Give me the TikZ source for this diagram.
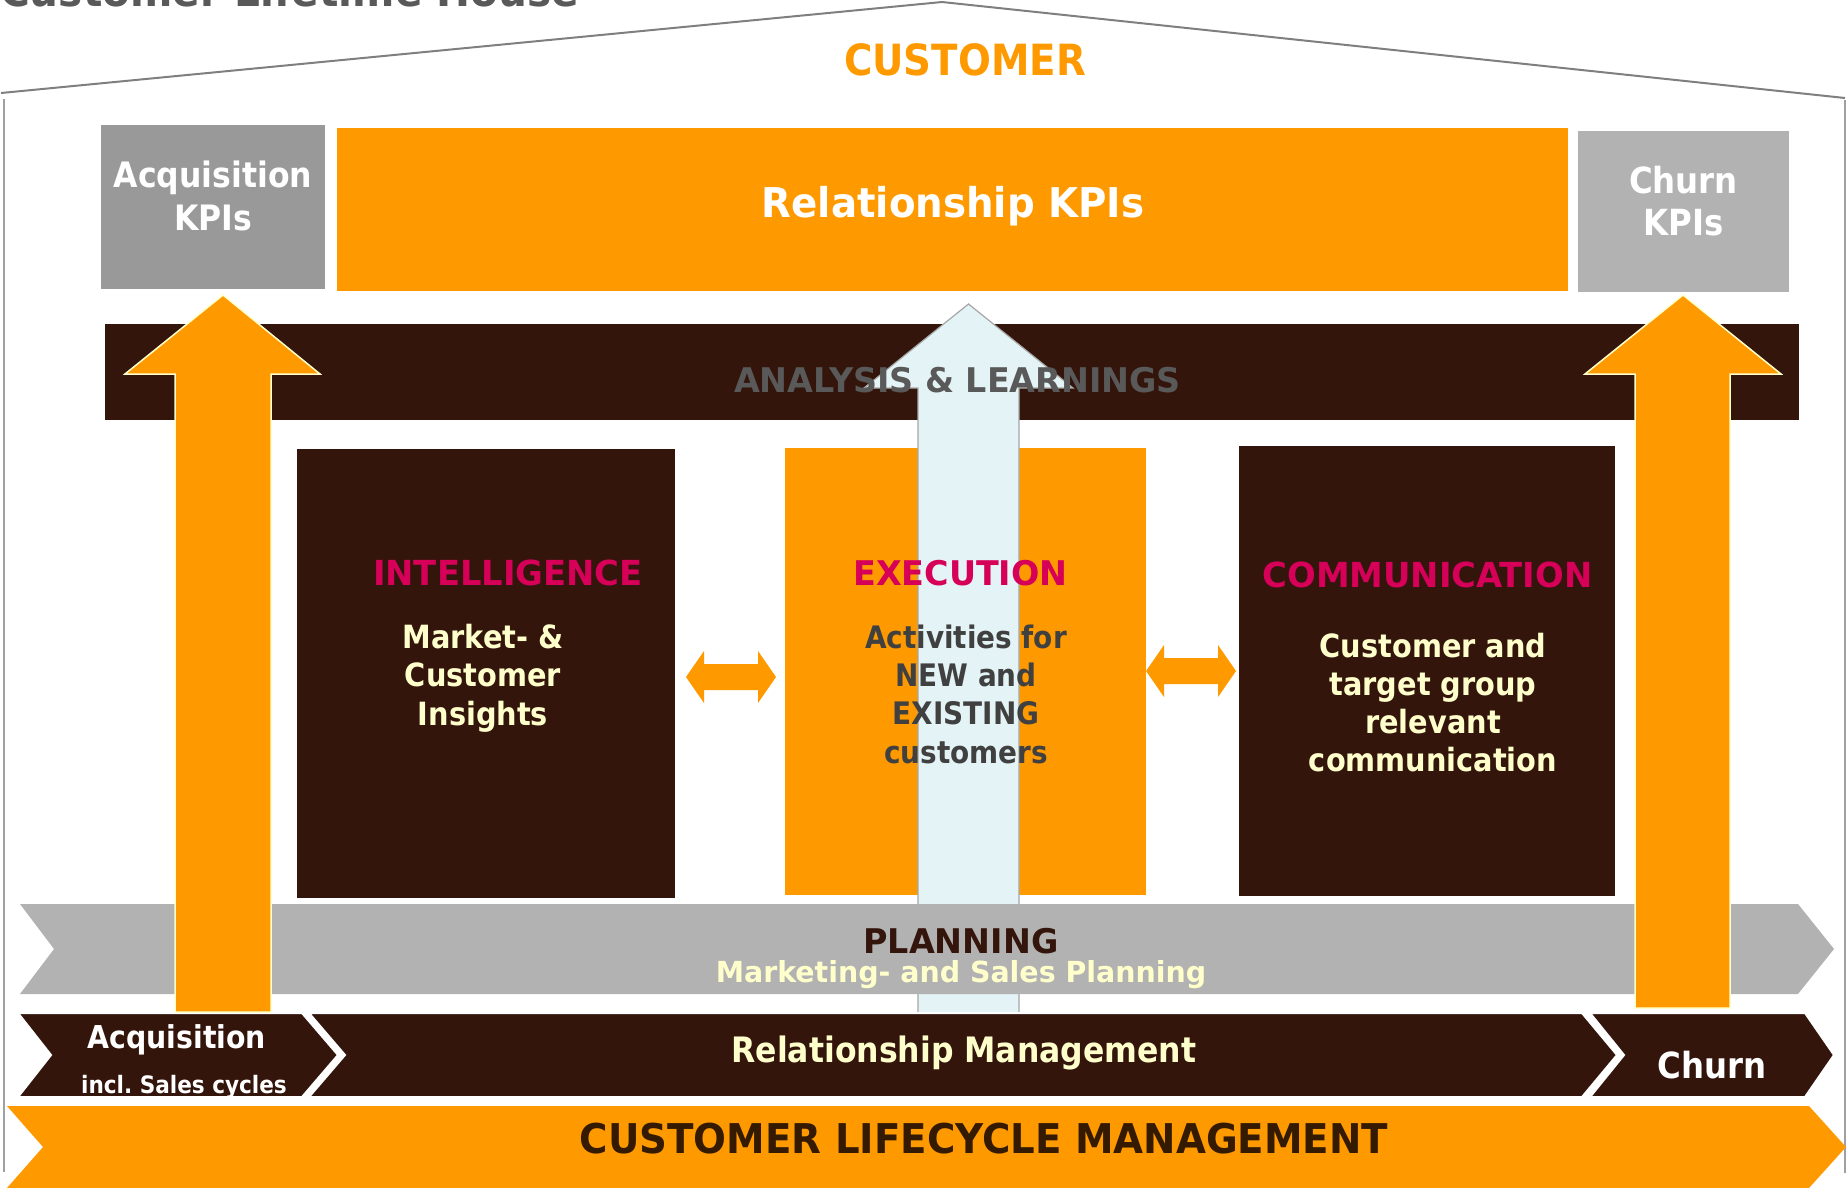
\documentclass[tikz,border=0pt]{standalone}
\usepackage{fontspec}
\setmainfont{DejaVuSansCondensed-Bold.ttf}
\newfontfamily\fontA{DejaVuSansCondensed-Bold.ttf}[FakeStretch=1.05]
\newfontfamily\fontB{DejaVuSansCondensed-Bold.ttf}[FakeStretch=1.09]
\newcommand\fsz[2]{\fontsize{#1}{#2}\selectfont}

\definecolor{orng}{HTML}{FF9900}
\definecolor{brn}{HTML}{33150C}
\definecolor{grayA}{HTML}{999999}
\definecolor{grayB}{HTML}{B2B2B2}
\definecolor{crim}{HTML}{D60058}
\definecolor{paleyel}{HTML}{FFFFCC}
\definecolor{txtgray}{HTML}{595959}
\definecolor{darktxt}{HTML}{404040}
\definecolor{icefill}{HTML}{E4F3F5}
\definecolor{icedraw}{HTML}{A6A6A6}
\definecolor{roofgray}{HTML}{7F7F7F}
\definecolor{wallgray}{HTML}{A0A0A0}
\definecolor{clmtxt}{HTML}{331A00}

\tikzset{
  lbl/.style={inner sep=0pt, anchor=base, align=center},
  roofline/.style={draw=roofgray, line width=2pt, line join=miter},
  wall/.style={draw=wallgray, line width=1.5pt},
  uparrow/.style={fill=orng, draw=paleyel, line width=1.5pt, line join=miter},
  ctrarrow/.style={fill=icefill, draw=icedraw, line width=1.2pt, line join=miter},
  chev/.style={fill=brn, draw=white, line width=2pt, line join=miter},
  head/.style={text=crim},
}

\begin{document}
\begin{tikzpicture}[x=1pt,y=-1pt]
\useasboundingbox (0,0) rectangle (1847,1187);
\clip (0,0) rectangle (1847,1187);

% title, mostly above the page edge
\node[anchor=base west, inner sep=0pt, text=txtgray, font=\fontA\fsz{43}{43}] (title) at (0,6) {Customer Lifetime House};

% roof and walls
\draw[roofline] (1,93) -- (942,2) -- (1845,98);
\draw[wall] (4,99) -- (4,1172);
\draw[wall] (1845,100) -- (1845,1173);

\node[lbl, text=orng, font=\fsz{43}{43}] (customer) at (965,75) {CUSTOMER};

% KPI row
\fill[grayA] (101,125) rectangle (325,289);
\fill[orng] (337,128) rectangle (1568,291);
\fill[grayB] (1578,131) rectangle (1789,292);

% analysis bar
\fill[brn] (105,324) rectangle (1799,420);

% pillars
\fill[brn] (297,449) rectangle (675,898);
\fill[orng] (785,448) rectangle (1146,895);
\fill[brn] (1239,446) rectangle (1615,896);

% double arrows between pillars
\fill[orng] (686,677) -- (704,651) -- (704,664) -- (758,664) -- (758,651) -- (776,677)
  -- (758,703) -- (758,690) -- (704,690) -- (704,703) -- cycle;
\fill[orng] (1146,671) -- (1164,645) -- (1164,658) -- (1218,658) -- (1218,645) -- (1236,671)
  -- (1218,697) -- (1218,684) -- (1164,684) -- (1164,697) -- cycle;

% central arrow
\draw[ctrarrow] (918,1016) -- (918,388) -- (864,388) -- (968.5,304) -- (1073,388)
  -- (1019,388) -- (1019,1016) -- cycle;

% planning band
\fill[grayB] (20,904) -- (1798,904) -- (1834,949) -- (1798,994) -- (20,994) -- (54,949) -- cycle;

% lifecycle phases
\draw[chev] (18,1013) -- (302,1013) -- (338,1055) -- (302,1097) -- (18,1097) -- (51,1055) -- cycle;
\draw[chev] (309,1013) -- (1582,1013) -- (1617,1055) -- (1582,1097) -- (309,1097) -- (345,1055) -- cycle;
\draw[chev] (1590,1013) -- (1805,1013) -- (1834,1055) -- (1805,1097) -- (1590,1097) -- (1624,1055) -- cycle;

% lifecycle management band
\fill[orng] (7,1106) -- (1809,1106) -- (1846,1147) -- (1809,1188) -- (7,1188) -- (43,1147) -- cycle;

% side arrows
\draw[uparrow] (175,1012) -- (175,374) -- (125,374) -- (223,295) -- (320,374) -- (271,374) -- (271,1012) -- cycle;
\draw[uparrow] (1635,1008) -- (1635,374) -- (1585,374) -- (1683,295) -- (1781,374) -- (1730,374) -- (1730,1008) -- cycle;

% labels (multi-line nodes are placed by the baseline of their last line)
\node[lbl, text=white, font=\fsz{35}{43}] (acqkpi) at (213,230) {Acquisition\\KPIs};
\node[lbl, text=white, font=\fontA\fsz{41}{41}] (relkpi) at (953,217) {Relationship KPIs};
\node[lbl, text=white, font=\fsz{36}{42}] (chkpi) at (1683.5,235) {Churn\\KPIs};

\node[lbl, text=txtgray, font=\fontB\fsz{34}{34}] (analysis) at (957.5,392) {ANALYSIS \& LEARNINGS};

\node[lbl, head, font=\fontB\fsz{34.5}{34}] (intel) at (508,585) {INTELLIGENCE};
\node[lbl, text=paleyel, font=\fsz{32}{38.5}] (inteltxt) at (483,725) {Market- \&\\Customer\\Insights};

\node[lbl, head, font=\fontB\fsz{34}{34}] (exec) at (960.5,585) {EXECUTION};
\node[lbl, text=darktxt, font=\fsz{31}{38.3}] (exectxt) at (966,763) {Activities for\\NEW and\\EXISTING\\customers};

\node[lbl, head, font=\fontB\fsz{34.5}{34}] (comm) at (1427.5,587) {COMMUNICATION};
\node[lbl, text=paleyel, font=\fsz{32}{38}] (commtxt) at (1433,771) {Customer and\\target group\\relevant\\communication};

\node[lbl, text=brn, font=\fontB\fsz{34}{34}] (plan) at (961,953) {PLANNING};
\node[lbl, text=paleyel, font=\fontB\fsz{29}{29}] (plantxt) at (961,982) {Marketing- and Sales Planning};

\node[lbl, text=white, font=\fsz{31.5}{32}] (acq) at (177,1048) {Acquisition};
\node[lbl, text=white, font=\fsz{24}{24}] (acqsub) at (184,1093) {incl.\ Sales cycles};
\node[lbl, text=paleyel, font=\fsz{35}{35}] (relmgmt) at (964,1062) {Relationship Management};
\node[lbl, text=white, font=\fsz{36}{36}] (churn) at (1712,1078) {Churn};

\node[lbl, text=clmtxt, font=\fontA\fsz{41}{41}] (clm) at (984,1153) {CUSTOMER LIFECYCLE MANAGEMENT};
\end{tikzpicture}
\end{document}
